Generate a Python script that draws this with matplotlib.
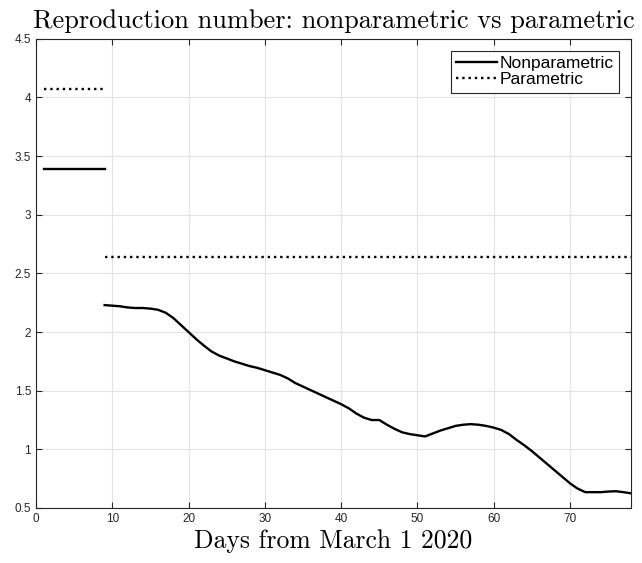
import matplotlib
matplotlib.use("Agg")
import matplotlib.pyplot as plt

# early constant segment (days 1-9)
early_days = [1, 9]
early_nonpar = [3.39, 3.39]
early_par = [4.07, 4.07]

# later period (days 9-78)
late_days = list(range(9, 79))
late_nonpar = [2.23, 2.225, 2.22, 2.21, 2.205, 2.205, 2.2, 2.19, 2.165, 2.12,
               2.06, 2.0, 1.94, 1.885, 1.835, 1.8, 1.775, 1.75, 1.73, 1.71,
               1.695, 1.675, 1.655, 1.635, 1.605, 1.565, 1.535, 1.505, 1.475, 1.445,
               1.415, 1.385, 1.35, 1.305, 1.27, 1.25, 1.25, 1.21, 1.175, 1.145,
               1.13, 1.12, 1.11, 1.135, 1.16, 1.18, 1.2, 1.21, 1.215, 1.21,
               1.2, 1.185, 1.165, 1.13, 1.08, 1.035, 0.985, 0.93, 0.875, 0.82,
               0.765, 0.71, 0.665, 0.635, 0.635, 0.635, 0.64, 0.643, 0.635, 0.625]
late_par = [2.64] * len(late_days)

xticks = [0, 10, 20, 30, 40, 50, 60, 70]
yticks = [0.5, 1, 1.5, 2, 2.5, 3, 3.5, 4, 4.5]

plt.rcParams['font.family'] = 'Liberation Sans'

fig = plt.figure(figsize=(6.42, 5.63), dpi=100)
ax = fig.add_axes([0.056, 0.0977, 0.927, 0.8333])

ax.plot(early_days, early_nonpar, color='k', lw=1.7, label='Nonparametric')
ax.plot(early_days, early_par, color='k', lw=1.7, ls=':', label='Parametric')
ax.plot(late_days, late_nonpar, color='k', lw=1.7)
ax.plot(late_days, late_par, color='k', lw=1.7, ls=':')

ax.set_xlim(0, 78)
ax.set_ylim(0.5, 4.5)
ax.set_xticks(xticks)
ax.set_yticks(yticks)
ax.set_yticklabels(['0.5', '1', '1.5', '2', '2.5', '3', '3.5', '4', '4.5'])
ax.tick_params(direction='in', top=True, right=True, labelsize=8.5,
               colors='#262626', length=4, width=0.8)
ax.grid(True, color='#e3e3e3', lw=0.8)
ax.set_axisbelow(True)
for s in ax.spines.values():
    s.set_color('#262626')
    s.set_linewidth(0.8)

ax.set_title('Reproduction number: nonparametric vs parametric',
             fontname='cmr10', fontsize=19, pad=8)
ax.set_xlabel('Days from March 1 2020', fontname='cmr10', fontsize=18.5, labelpad=3)

leg = ax.legend(loc='upper right', fontsize=12.5, frameon=True, fancybox=False,
                edgecolor='#262626', framealpha=1, handlelength=2.35,
                handletextpad=0.15, borderpad=0.3, labelspacing=0.05,
                borderaxespad=0.7)
leg.get_frame().set_linewidth(0.8)

fig.savefig('out.png', dpi=100)
